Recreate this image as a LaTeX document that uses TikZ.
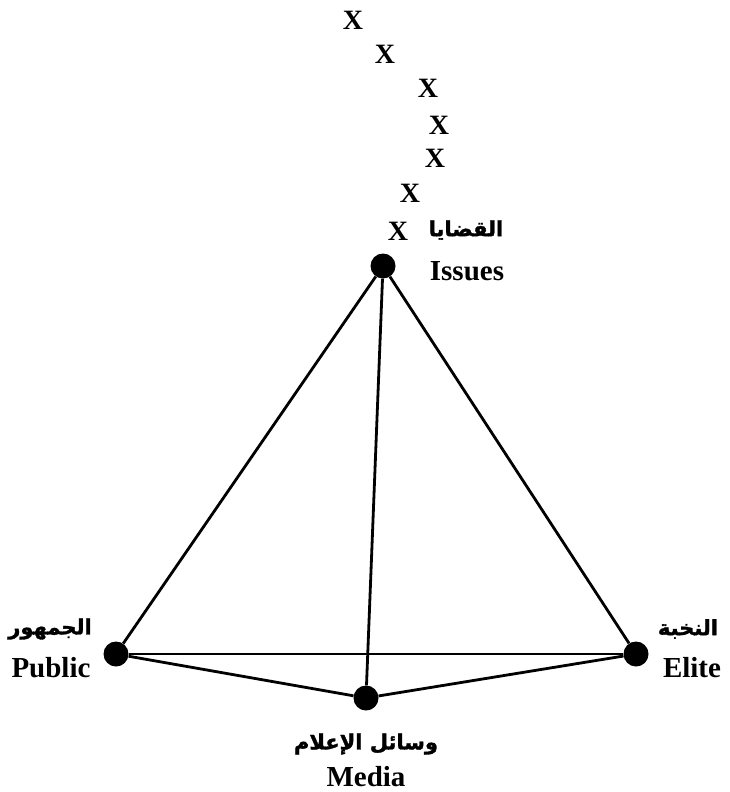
\documentclass[tikz,border=0pt]{standalone}
\usepackage{fontspec}
\setmainfont{Liberation Serif}
\newfontfamily\arabicfont[Script=Arabic,BoldFont={DejaVu Sans Bold},BoldFeatures={FakeBold=1.5}]{DejaVu Sans}
\TeXXeTstate=1
\begin{document}
\begin{tikzpicture}[x=1pt,y=-1pt,
  vert/.style={circle,fill=black,inner sep=0pt,minimum size=25pt},
  edge/.style={line width=2.8pt},
  lat/.style={font=\fontsize{29}{31}\selectfont\bfseries,inner sep=0pt},
  arb/.style={font=\fontsize{21}{23}\selectfont\arabicfont\bfseries,inner sep=0pt},
  xm/.style={font=\fontsize{28}{30}\selectfont\bfseries,inner sep=0pt}]
\useasboundingbox (0,0) rectangle (730,792);
\node[vert] (I) at (383,266) {};
\node[vert] (P) at (116,654) {};
\node[vert] (E) at (636,654) {};
\node[vert] (M) at (366,698) {};
\draw[edge] (I) -- (P);
\draw[edge] (I) -- (E);
\draw[edge] (I) -- (M);
\draw[edge] (P) -- (E);
\draw[edge] (P) -- (M);
\draw[edge] (M) -- (E);
\node[xm] (x1) at (353,20) {X};
\node[xm] (x2) at (385,54) {X};
\node[xm] (x3) at (428,88) {X};
\node[xm] (x4) at (439,125) {X};
\node[xm] (x5) at (435,158) {X};
\node[xm] (x6) at (410,193) {X};
\node[xm] (x7) at (398,231) {X};
\node[arb] (ia) at (466,230) {\beginR القضايا\endR};
\node[lat] (il) at (467,271) {Issues};
\node[arb] (pa) at (50,629) {\beginR الجمهور\endR};
\node[lat] (pl) at (51,668) {Public};
\node[arb] (ea) at (688,629) {\beginR النخبة\endR};
\node[lat] (el) at (692,668) {Elite};
\node[arb] (ma) at (366,744) {\beginR وسائل الإعلام\endR};
\node[lat] (ml) at (366,777) {Media};
\end{tikzpicture}
\end{document}
